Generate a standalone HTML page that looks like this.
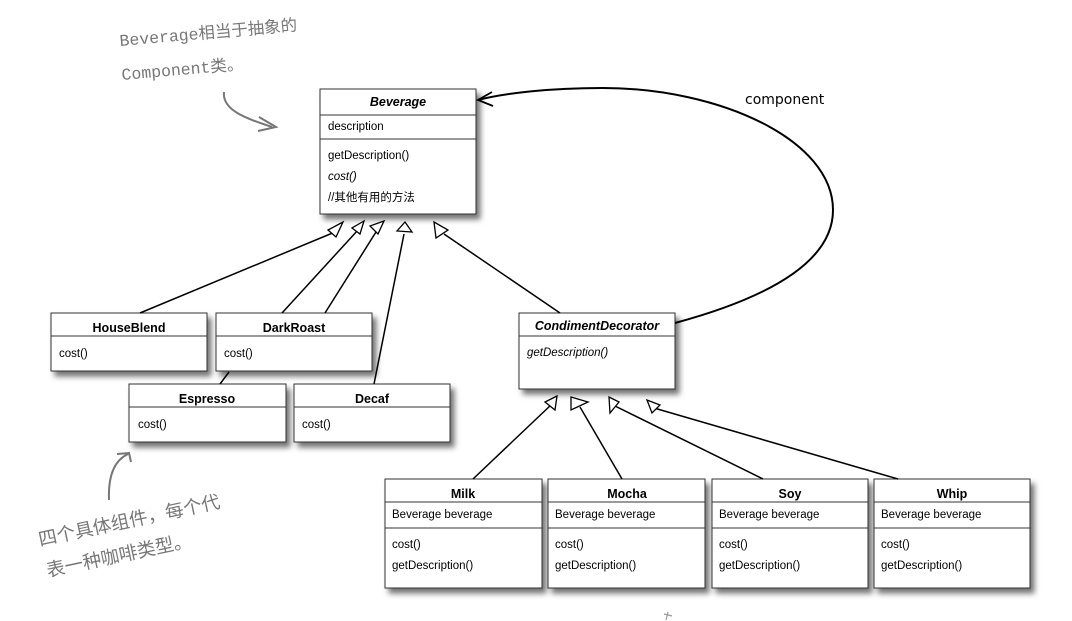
<!DOCTYPE html>
<html><head><meta charset="utf-8"><style>
html,body{margin:0;padding:0;background:#fff;}
svg{display:block;}
.b{font-family:"Liberation Sans Narrow","Liberation Sans","Noto Sans CJK SC",sans-serif;font-size:11.5px;fill:#000;}
.t{font-weight:bold;font-size:12.5px;}
.hand{font-family:"Liberation Mono","Noto Sans CJK SC",monospace;font-size:16.5px;fill:#777;}
.handc{font-family:"Liberation Sans","Noto Sans CJK SC",sans-serif;font-size:18.5px;fill:#777;}
</style></head><body>
<svg width="1072" height="621" viewBox="0 0 1072 621" xmlns="http://www.w3.org/2000/svg">
<defs>
<filter id="sh" x="-10%" y="-10%" width="130%" height="140%"><feDropShadow dx="4" dy="5" stdDeviation="3" flood-color="#000" flood-opacity="0.55"/></filter>
</defs>
<g fill="#fff" stroke="#333" stroke-width="1" filter="url(#sh)">
<rect x="320" y="89" width="156" height="125"/>
<rect x="51" y="313" width="156" height="58"/>
<rect x="216" y="313" width="156" height="58"/>
<rect x="129" y="384" width="157" height="58"/>
<rect x="294" y="384" width="156" height="58"/>
<rect x="519" y="313" width="156" height="76"/>
<rect x="385" y="479" width="157" height="109"/>
<rect x="548" y="479" width="157" height="109"/>
<rect x="712" y="479" width="156" height="109"/>
<rect x="874" y="479" width="156" height="109"/>
</g>
<g stroke="#333" stroke-width="1">
<line x1="320" y1="115" x2="476" y2="115"/><line x1="320" y1="139" x2="476" y2="139"/>
<line x1="51" y1="336" x2="207" y2="336"/>
<line x1="216" y1="336" x2="372" y2="336"/>
<line x1="129" y1="407" x2="286" y2="407"/>
<line x1="294" y1="407" x2="450" y2="407"/>
<line x1="519" y1="336" x2="675" y2="336"/>
<g><line x1="385" y1="502" x2="542" y2="502"/><line x1="385" y1="528" x2="542" y2="528"/>
<line x1="548" y1="502" x2="705" y2="502"/><line x1="548" y1="528" x2="705" y2="528"/>
<line x1="712" y1="502" x2="868" y2="502"/><line x1="712" y1="528" x2="868" y2="528"/>
<line x1="874" y1="502" x2="1030" y2="502"/><line x1="874" y1="528" x2="1030" y2="528"/></g>
</g>
<g stroke="#000" stroke-width="1.5" fill="none">
<line x1="140" y1="313" x2="335" y2="232"/>
<line x1="220" y1="384" x2="229" y2="372"/>
<line x1="282" y1="313" x2="358" y2="230"/>
<line x1="325" y1="313" x2="376" y2="232"/>
<line x1="374" y1="384" x2="404" y2="234"/>
<line x1="560" y1="313" x2="444" y2="234"/>
<line x1="473" y1="479" x2="552" y2="404"/>
<line x1="622" y1="479" x2="580" y2="407"/>
<line x1="763" y1="479" x2="615" y2="406"/>
<line x1="898" y1="479" x2="654" y2="408"/>
<path d="M675,323 C760,300 833,265 833,210 C833,140 720,88 603,88 C550,88 505,93 478,100" stroke-width="2"/>
<polyline points="492,92 478,100 493,106" stroke-width="1.8"/>
</g>
<g stroke="#000" stroke-width="1.3" fill="#fff">
<polygon points="343,222 328,230 336,237"/>
<polygon points="364,221 352,228 360,234"/>
<polygon points="384,221 370,226 378,234"/>
<polygon points="405,222 397,231 412,232"/>
<polygon points="434,222 436,238 448,230"/>
<polygon points="557,396 545,402 555,410"/>
<polygon points="571,397 571,410 588,402"/>
<polygon points="609,397 610,413 619,402"/>
<polygon points="647,400 652,413 660,405"/>
</g>
<text class="b t" x="398" y="106" text-anchor="middle" font-style="italic">Beverage</text>
<text class="b" x="328" y="130">description</text>
<text class="b" x="328" y="159">getDescription()</text>
<text class="b" x="328" y="180" font-style="italic">cost()</text>
<text class="b" x="328" y="201">//其他有用的方法</text>
<text class="b t" x="129" y="332" text-anchor="middle">HouseBlend</text>
<text class="b" x="59" y="357">cost()</text>
<text class="b t" x="294" y="332" text-anchor="middle">DarkRoast</text>
<text class="b" x="224" y="357">cost()</text>
<text class="b t" x="207" y="403" text-anchor="middle">Espresso</text>
<text class="b" x="138" y="428">cost()</text>
<text class="b t" x="372" y="403" text-anchor="middle">Decaf</text>
<text class="b" x="302" y="428">cost()</text>
<text class="b t" x="597" y="330" text-anchor="middle" font-style="italic">CondimentDecorator</text>
<text class="b" x="527" y="356" font-style="italic">getDescription()</text>
<text class="b t" x="463" y="498" text-anchor="middle">Milk</text>
<text class="b t" x="627" y="498" text-anchor="middle">Mocha</text>
<text class="b t" x="790" y="498" text-anchor="middle">Soy</text>
<text class="b t" x="952" y="498" text-anchor="middle">Whip</text>
<g class="b">
<text x="392" y="518">Beverage beverage</text><text x="392" y="548">cost()</text><text x="392" y="569">getDescription()</text>
<text x="555" y="518">Beverage beverage</text><text x="555" y="548">cost()</text><text x="555" y="569">getDescription()</text>
<text x="719" y="518">Beverage beverage</text><text x="719" y="548">cost()</text><text x="719" y="569">getDescription()</text>
<text x="881" y="518">Beverage beverage</text><text x="881" y="548">cost()</text><text x="881" y="569">getDescription()</text>
</g>
<text x="745" y="104" font-family="'DejaVu Sans','Liberation Sans',sans-serif" font-size="14" fill="#000">component</text>
<text class="hand" x="120" y="46" transform="rotate(-5 120 46)">Beverage相当于抽象的</text>
<text class="hand" x="122" y="80" transform="rotate(-5 122 80)">Component类。</text>
<path d="M224,92 C222,110 245,118 272,127" stroke="#777" stroke-width="2" fill="none"/>
<polyline points="259,117 276,127 258,131" stroke="#777" stroke-width="2" fill="none"/>
<text class="handc" x="40" y="546" transform="rotate(-12 40 546)">四个具体组件，每个代</text>
<text class="handc" x="48" y="577" transform="rotate(-12 48 577)">表一种咖啡类型。</text>
<path d="M109,500 C108,475 115,460 128,454" stroke="#777" stroke-width="2" fill="none"/>
<polyline points="117,454 129,453 131,462" stroke="#777" stroke-width="2" fill="none"/>
<path d="M668,612 L666,620 M664,614 L672,616" stroke="#999" stroke-width="1.2"/>
</svg>
</body></html>
